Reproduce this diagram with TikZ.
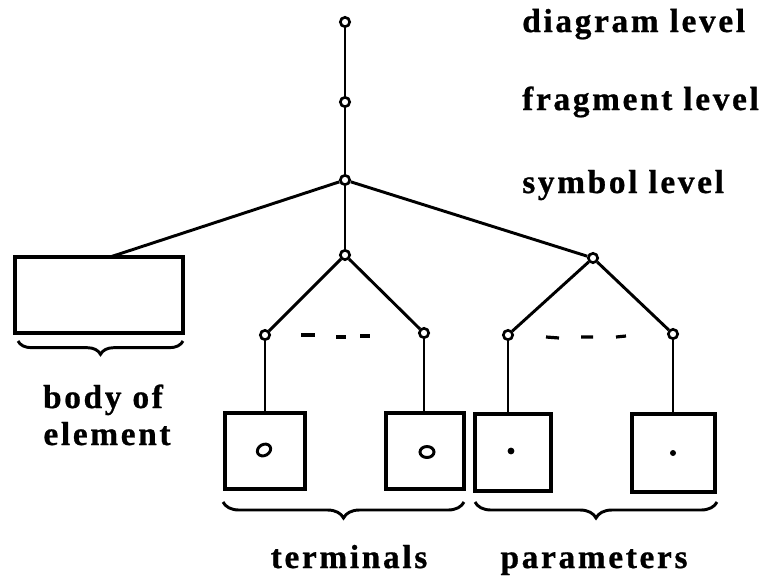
\documentclass[tikz,border=0pt]{standalone}
\usepackage{fontspec}
\newfontfamily\lblfont{Liberation Serif}[UprightFont={* Bold},LetterSpace=8,FakeBold=0.8]
\usetikzlibrary{decorations.pathreplacing}
\begin{document}
\begin{tikzpicture}[x=0.75pt,y=-0.75pt,
  conn/.style={line width=2.2pt},
  knot/.style={circle,draw,line width=2pt,fill=white,inner sep=0pt,minimum size=7pt},
  box/.style={rectangle,draw,line width=3pt,inner sep=0pt},
  lbl/.style={font=\fontsize{25}{29}\lblfont,inner sep=0pt},
  brc/.style={decorate,decoration={brace,mirror,amplitude=#1},line width=2.2pt},
  gap/.style={line width=2.4pt}]
\useasboundingbox (0,0) rectangle (770,579);
% boxes
\node[box,minimum width=126pt,minimum height=57pt] (body) at (99,295) {};
\node[box,minimum width=60pt,minimum height=57pt] (tb1) at (265,451) {};
\node[box,minimum width=58.5pt,minimum height=57pt] (tb2) at (425,451) {};
\node[box,minimum width=57pt,minimum height=57.75pt] (pb1) at (512.5,452.5) {};
\node[box,minimum width=62.25pt,minimum height=58.5pt] (pb2) at (673.5,453) {};
% tree nodes
\node[knot] (dia) at (345,22) {};
\node[knot] (frag) at (345,102) {};
\node[knot] (sym) at (345,180) {};
\node[knot] (term) at (345,255) {};
\node[knot] (par) at (593,258) {};
\node[knot] (t1) at (265,335) {};
\node[knot] (t2) at (424,333) {};
\node[knot] (p1) at (508,335) {};
\node[knot] (p2) at (673,334) {};
\coordinate (bodytop) at (110,257);
% connectors
\draw[conn] (dia) -- (frag);
\draw[conn] (frag) -- (sym);
\draw[conn] (sym) -- (term);
\draw[conn] (sym) -- (bodytop);
\draw[conn] (sym) -- (par);
\draw[conn] (term) -- (t1);
\draw[conn] (term) -- (t2);
\draw[conn] (par) -- (p1);
\draw[conn] (par) -- (p2);
\draw[conn] (t1) -- (t1 |- tb1.north);
\draw[conn] (t2) -- (t2 |- tb2.north);
\draw[conn] (p1) -- (p1 |- pb1.north);
\draw[conn] (p2) -- (p2 |- pb2.north);
% dashes
\draw[gap] (301,335) -- (315,335) (336,337) -- (346,337) (360,336) -- (370,336);
\draw[gap] (546,337) -- (559,338) (581,337) -- (593,337) (616,337) -- (626,336);
% contents
\draw[line width=2.2pt,rotate around={30:(264,450)}] (264,450) ellipse (7 and 5.5);
\draw[line width=2.2pt] (427,452) ellipse (7 and 5.5);
\fill (511,451) circle (3.4);
\fill (673,453) circle (3);
% braces
\coordinate (b1) at (18,341);
\coordinate (b2) at (183,341);
\coordinate (tt1) at (223,502);
\coordinate (tt2) at (464,502);
\coordinate (pp1) at (475,502);
\coordinate (pp2) at (717,502);
\draw[brc=10pt] (b1) -- (b2);
\draw[brc=12pt] (tt1) -- (tt2);
\draw[brc=12pt] (pp1) -- (pp2);
% labels
\node[lbl,anchor=base west] (ldia) at (522,32) {diagram level};
\node[lbl,anchor=base west] (lfrag) at (522,110) {fragment level};
\node[lbl,anchor=base west] (lsym) at (522,193) {symbol level};
\node[lbl,anchor=base] (lbody) at (103,408) {body of};
\node[lbl,anchor=base] (lelem) at (107,445) {element};
\node[lbl,anchor=base] (lterm) at (349,568) {terminals};
\node[lbl,anchor=base] (lpar) at (594,568) {parameters};
\end{tikzpicture}
\end{document}
